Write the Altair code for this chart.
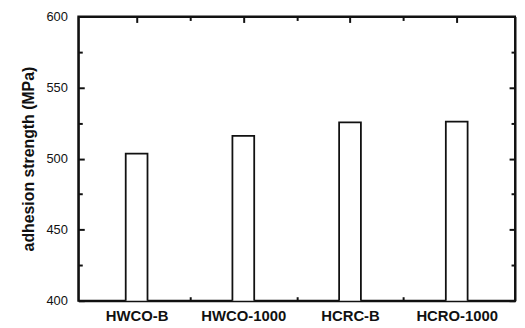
import altair as alt
import pandas as pd

names = ["HWCO-B", "HWCO-1000", "HCRC-B", "HCRO-1000"]
positions = [1, 2, 3, 4]
strength = [503.5, 516, 525.5, 526]

x_major = [1, 2, 3, 4]
x_minor = [1.5, 2.5, 3.5]
y_major = [400, 450, 500, 550, 600]
y_minor = [425, 475, 525, 575]

df = pd.DataFrame({"pos": positions, "name": names, "value": strength})

FONT = "Liberation Sans"
INK = "#111111"
xs = alt.Scale(domain=[0.5, 4.5], nice=False, zero=False)
ys = alt.Scale(domain=[400, 600], nice=False, zero=False)

label_expr = "[" + ",".join("'" + n + "'" for n in names) + "][datum.value - 1]"

base = alt.Chart(df)

bars = base.mark_bar(size=22, fill="white", stroke=INK, strokeWidth=1.8, clip=True).encode(
    x=alt.X("pos:Q", scale=xs, axis=alt.Axis(
        orient="bottom", values=x_major, labelExpr=label_expr, title=None,
        domain=False, tickSize=6, offset=-6, tickColor=INK, tickWidth=2,
        labelFont=FONT, labelFontSize=15, labelFontWeight="bold", labelColor=INK,
        labelPadding=8, grid=False)),
    y=alt.Y("value:Q", scale=ys, axis=alt.Axis(
        orient="left", values=y_major, title="adhesion strength (MPa)",
        domain=False, tickSize=6, offset=-6, tickColor=INK, tickWidth=2,
        labelFont=FONT, labelFontSize=13, labelColor=INK, labelPadding=11,
        titleFont=FONT, titleFontSize=16, titleFontWeight="bold", titleColor=INK,
        titlePadding=10, grid=False)),
)


def axis_layer(orient, ax):
    if orient in ("top", "bottom"):
        return base.mark_point(opacity=0).encode(
            x=alt.X("pos:Q", scale=xs, axis=ax),
            y=alt.Y("value:Q", scale=ys, axis=None))
    return base.mark_point(opacity=0).encode(
        x=alt.X("pos:Q", scale=xs, axis=None),
        y=alt.Y("value:Q", scale=ys, axis=ax))


def tick_layer(orient, vals, size):
    ax = alt.Axis(orient=orient, values=vals, title=None, labels=False, domain=False,
                  tickSize=size, offset=-size, tickColor=INK, tickWidth=2, grid=False)
    return axis_layer(orient, ax)


def frame_layer(orient):
    ax = alt.Axis(orient=orient, title=None, labels=False, ticks=False, grid=False,
                  domain=True, domainColor=INK, domainWidth=2)
    return axis_layer(orient, ax)


layers = [
    bars,
    tick_layer("bottom", x_minor, 4),
    tick_layer("top", x_major, 6),
    tick_layer("top", x_minor, 4),
    tick_layer("left", y_minor, 4),
    tick_layer("right", y_major, 6),
    tick_layer("right", y_minor, 4),
    frame_layer("bottom"),
    frame_layer("top"),
    frame_layer("left"),
    frame_layer("right"),
]

chart = alt.layer(*layers).resolve_axis(x="independent", y="independent").properties(
    width=441, height=287,
    background="white",
    autosize=alt.AutoSizeParams(type="none"),
    padding={"left": 71, "top": 7, "right": 2, "bottom": 24},
).configure_view(stroke=INK, strokeWidth=2)

chart.save("out.html", embed_options={"renderer": "svg", "actions": False})
